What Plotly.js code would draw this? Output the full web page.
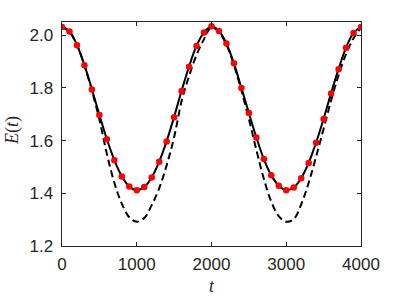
<!DOCTYPE html>
<html>
<head>
<meta charset="utf-8">
<script src="https://cdn.plot.ly/plotly-3.0.1.min.js"></script>
<style>html,body{margin:0;padding:0;background:#fff;}#chart{width:399px;height:299px;}</style>
</head>
<body>
<div id="chart"></div>
<script>
var tValues = [0,100,200,300,400,500,600,700,800,900,1000,1100,1200,1300,1400,1500,1600,1700,1800,1900,2000,2100,2200,2300,2400,2500,2600,2700,2800,2900,3000,3100,3200,3300,3400,3500,3600,3700,3800,3900,4000];
var dotE = [2.031,2.014,1.962,1.886,1.794,1.697,1.605,1.525,1.464,1.426,1.412,1.424,1.460,1.520,1.597,1.689,1.788,1.880,1.959,2.010,2.034,2.016,1.968,1.893,1.800,1.705,1.612,1.530,1.468,1.429,1.412,1.422,1.457,1.515,1.592,1.682,1.779,1.871,1.952,2.008,2.031];
var solidE = [2.032,2.015,1.963,1.887,1.795,1.698,1.606,1.526,1.465,1.426,1.412,1.424,1.460,1.520,1.598,1.690,1.789,1.881,1.960,2.011,2.034,2.016,1.968,1.893,1.800,1.705,1.612,1.530,1.468,1.429,1.412,1.422,1.457,1.516,1.593,1.683,1.780,1.872,1.953,2.009,2.032];
var dashedE = [2.031,2.012,1.962,1.885,1.790,1.680,1.550,1.440,1.361,1.309,1.292,1.306,1.355,1.419,1.506,1.613,1.750,1.845,1.925,1.985,2.030,2.012,1.964,1.887,1.790,1.682,1.565,1.455,1.368,1.313,1.292,1.302,1.358,1.440,1.540,1.645,1.752,1.848,1.928,1.988,2.028];
var xTicks = [0,1000,2000,3000,4000];
var yTicks = [1.2,1.4,1.6,1.8,2.0];
var yTickText = ['1.2','1.4','1.6','1.8','2.0'];

var axisColor = '#262626';
var traces = [
  {x: tValues, y: dashedE, type: 'scatter', mode: 'lines', line: {color: '#000', width: 2, dash: '7px,4px', shape: 'spline', smoothing: 1}, hoverinfo: 'none'},
  {x: tValues, y: solidE, type: 'scatter', mode: 'lines', line: {color: '#000', width: 2, shape: 'spline', smoothing: 1}, hoverinfo: 'none'},
  {x: tValues, y: dotE, type: 'scatter', mode: 'markers', marker: {color: '#ff0000', size: 6.5, line: {width: 0}}, hoverinfo: 'none'}
];
var layout = {
  width: 399, height: 299,
  margin: {l: 62, r: 38, t: 22, b: 53, pad: 0},
  paper_bgcolor: '#fff', plot_bgcolor: '#fff',
  showlegend: false,
  font: {family: '"Liberation Sans", Arial, sans-serif', size: 17, color: axisColor},
  xaxis: {
    range: [0, 4000], tickvals: xTicks, ticktext: xTicks.map(String),
    showgrid: false, zeroline: false, showline: true, linecolor: axisColor, linewidth: 1.4,
    mirror: 'allticks', ticks: 'inside', ticklen: 4, tickwidth: 1, tickcolor: axisColor,
    tickfont: {size: 17, color: axisColor}, ticklabelstandoff: 2
  },
  yaxis: {
    range: [1.2, 2.05], tickvals: yTicks, ticktext: yTickText,
    showgrid: false, zeroline: false, showline: true, linecolor: axisColor, linewidth: 1.4,
    mirror: 'allticks', ticks: 'inside', ticklen: 4, tickwidth: 1, tickcolor: axisColor,
    tickfont: {size: 17, color: axisColor}, ticklabelstandoff: 4
  },
  annotations: [
    {text: '<i>E</i>(<i>t</i>)', xref: 'paper', yref: 'paper', x: -50/299, y: (246-131)/224, xanchor: 'center', yanchor: 'middle', textangle: -90, showarrow: false, font: {family: '"Liberation Serif", "DejaVu Serif", serif', size: 18, color: axisColor}},
    {text: '<i>t</i>', xref: 'x', yref: 'paper', x: 2000, y: (246-286)/224, xanchor: 'center', yanchor: 'middle', showarrow: false, font: {family: '"Liberation Serif", "DejaVu Serif", serif', size: 18, color: axisColor}}
  ]
};
Plotly.newPlot('chart', traces, layout, {staticPlot: true, displayModeBar: false});
</script>
</body>
</html>
